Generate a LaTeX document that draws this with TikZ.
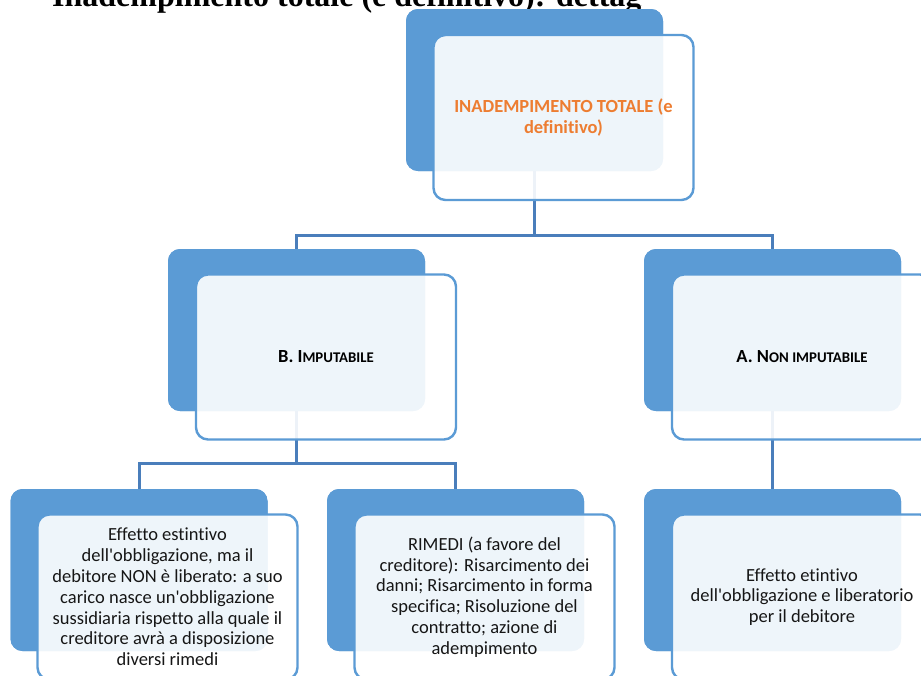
\documentclass[tikz,border=0pt]{standalone}
\usepackage{fontspec}
\newfontfamily\calfont[Ligatures=NoCommon]{Carlito}
\newfontfamily\titlefont{Liberation Serif}
\definecolor{backblue}{RGB}{91,155,213}
\definecolor{linkblue}{RGB}{74,126,187}
\definecolor{orangetxt}{RGB}{237,125,49}
\definecolor{bodytxt}{RGB}{22,22,22}
\tikzset{
  backbox/.style={draw=none, fill=backblue, rounded corners=12pt, minimum width=257pt, minimum height=162pt, inner sep=0pt},
  frontbox/.style={draw=backblue, line width=2.4pt, fill=white, fill opacity=0.9, text opacity=1, draw opacity=1, rounded corners=12pt, minimum width=260pt, minimum height=165pt, inner sep=0pt, align=center, font=\calfont\fontsize{18.5}{20.8}\selectfont, text=bodytxt},
  link/.style={draw=linkblue, line width=3pt}
}
\begin{document}
\begin{tikzpicture}[x=1pt,y=-1pt]
\useasboundingbox (0,0) rectangle (921,675);
\clip (0,0) rectangle (921,675);
\fill[white] (0,0) rectangle (921,675);
% title (cut off at top and at the right, as in the reference)
\begin{scope}
\clip (0,0) rectangle (641,20);
\node[anchor=base west, inner sep=0pt, font=\titlefont\bfseries\fontsize{32}{36}\selectfont] (title) at (52,6) {Inadempimento totale (e definitivo): dettaglio};
\end{scope}
% back boxes
\node[backbox] (topb) at (534.5,90) {};
\node[backbox] (bb) at (296.5,330) {};
\node[backbox] (ab) at (772.5,330) {};
\node[backbox] (blb) at (139,570) {};
\node[backbox] (bmb) at (455.5,570) {};
\node[backbox] (brb) at (772.5,570) {};
% connectors
\draw[link] (topb.south) -- (topb.south |- 0,235) -| (bb.north);
\draw[link] (topb.south |- 0,235) -| (ab.north);
\draw[link] (bb.south) -- (bb.south |- 0,463) -| (blb.north);
\draw[link] (bb.south |- 0,463) -| (bmb.north);
\draw[link] (ab.south) -- (brb.north);
% redraw back boxes over connector ends
\node[backbox] at (topb) {};
\node[backbox] at (bb) {};
\node[backbox] at (ab) {};
\node[backbox] at (blb) {};
\node[backbox] at (bmb) {};
\node[backbox] at (brb) {};
% front boxes
\node[frontbox, text=orangetxt, font=\calfont\bfseries\fontsize{18.5}{21}\selectfont] (topf) at (563.5,117.5) {INADEMPIMENTO TOTALE (e\\definitivo)};
\node[frontbox, text=black, font=\calfont\bfseries] (bf) at (326,357) {{\fontsize{18.5}{21}\selectfont B. I}{\fontsize{14.8}{21}\selectfont MPUTABILE}};
\node[frontbox, text=black, font=\calfont\bfseries] (af) at (802,357) {{\fontsize{18.5}{21}\selectfont A. N}{\fontsize{14.8}{21}\selectfont ON IMPUTABILE}};
\node[frontbox] (blf) at (167.5,597) {Effetto estintivo\\dell'obbligazione, ma il\\debitore NON è liberato: a suo\\carico nasce un'obbligazione\\sussidiaria rispetto alla quale il\\creditore avrà a disposizione\\diversi rimedi};
\node[frontbox] (bmf) at (484.5,597) {RIMEDI (a favore del\\creditore): Risarcimento dei\\danni; Risarcimento in forma\\specifica; Risoluzione del\\contratto; azione di\\adempimento};
\node[frontbox] (brf) at (802,597) {Effetto etintivo\\dell'obbligazione e liberatorio\\per il debitore};
\end{tikzpicture}
\end{document}
